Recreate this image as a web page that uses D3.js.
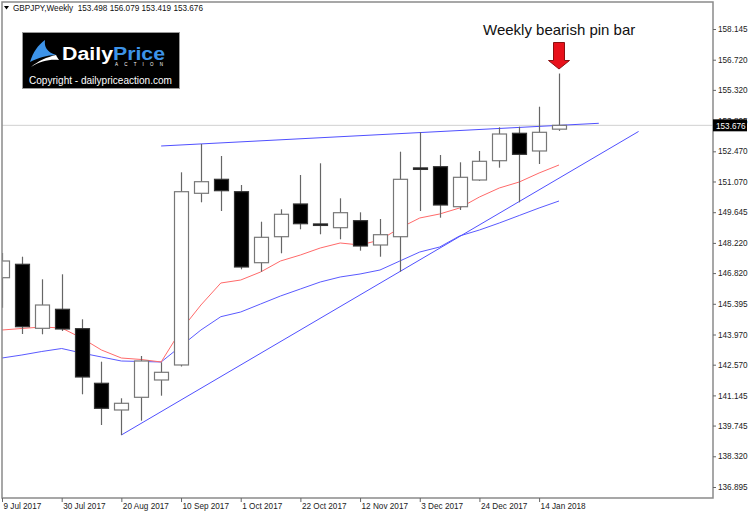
<!DOCTYPE html>
<html>
<head>
<meta charset="utf-8">
<script src="https://cdn.jsdelivr.net/npm/d3@7"></script>
<style>
  html, body { margin: 0; padding: 0; background: #fff; }
  svg text { font-family: "Liberation Sans", Arial, sans-serif; }
</style>
</head>
<body>
<svg id="chart" width="750" height="514"></svg>
<script>
// gbpjpy-weekly.js

const WEEKS = [
    "9 Jul 2017", "16 Jul 2017", "23 Jul 2017", "30 Jul 2017", "6 Aug 2017", "13 Aug 2017",
    "20 Aug 2017", "27 Aug 2017", "3 Sep 2017", "10 Sep 2017", "17 Sep 2017", "24 Sep 2017",
    "1 Oct 2017", "8 Oct 2017", "15 Oct 2017", "22 Oct 2017", "29 Oct 2017", "5 Nov 2017",
    "12 Nov 2017", "19 Nov 2017", "26 Nov 2017", "3 Dec 2017", "10 Dec 2017", "17 Dec 2017",
    "24 Dec 2017", "31 Dec 2017", "7 Jan 2018", "14 Jan 2018", "21 Jan 2018",
];
const OPEN  = [146.606, 147.228, 144.258, 145.140, 144.240, 141.707, 140.468, 141.057, 141.860, 142.556,
               150.522, 151.171, 150.596, 147.302, 148.508, 150.026, 149.100, 148.926, 149.251, 148.123,
               148.508, 151.700, 151.756, 149.900, 151.139, 152.034, 153.306, 152.485, 153.498];
const HIGH  = [147.752, 147.580, 146.532, 146.764, 144.676, 142.709, 141.011, 142.973, 142.681, 151.496,
               152.809, 152.253, 150.907, 149.204, 149.780, 151.371, 151.914, 150.290, 149.640, 149.330,
               152.452, 153.352, 152.299, 151.960, 152.485, 153.584, 153.612, 154.540, 156.079];
const LOW   = [145.214, 143.994, 143.980, 144.133, 141.196, 139.772, 139.308, 139.971, 141.131, 142.486,
               150.104, 149.701, 146.996, 146.884, 147.738, 148.852, 148.620, 148.388, 147.859, 147.580,
               146.884, 149.701, 149.390, 149.747, 151.100, 151.710, 150.104, 151.881, 153.419];
const CLOSE = [147.381, 144.333, 145.339, 144.226, 141.999, 140.547, 140.779, 142.741, 142.217, 150.596,
               151.060, 150.643, 147.103, 148.480, 149.548, 149.111, 149.080, 149.622, 148.077, 148.601,
               151.171, 151.680, 149.979, 151.264, 152.007, 153.273, 152.331, 153.352, 153.676];

// moving averages
const MA_FAST = [144.179, 144.249, 144.319, 144.272, 143.808, 143.252, 142.880, 142.811, 142.695, 144.179,
                 145.339, 146.360, 146.499, 146.871, 147.381, 147.659, 147.984, 148.216, 148.123, 148.355,
                 148.912, 149.376, 149.562, 149.840, 150.350, 150.768, 151.046, 151.464, 151.835];
const MA_SLOW = [142.880, 143.020, 143.182, 143.321, 143.112, 142.927, 142.741, 142.718, 142.695, 143.437,
                 144.179, 144.797, 145.015, 145.386, 145.757, 146.082, 146.407, 146.639, 146.778, 146.963,
                 147.381, 147.798, 148.030, 148.541, 148.819, 149.144, 149.492, 149.840, 150.165];

// hand-drawn trendlines: [bar index, price]
const TREND_LOW  = [[6, 139.308], [32, 153.390]];
const TREND_HIGH = [[8, 152.717], [30, 153.770]];

const PRICE_TICKS = [158.145, 156.720, 155.320, 153.895, 152.470, 151.070, 149.645, 148.220,
                     146.820, 145.395, 143.970, 142.570, 141.145, 139.745, 138.320, 136.895];
const TIME_TICKS = [0, 3, 6, 9, 12, 15, 18, 21, 24, 27];
const LAST_PRICE = 153.676;
const SYMBOL = "GBPJPY,Weekly";
const NOTE = "Weekly bearish pin bar";

// ── Layout ────────────────────────────────────────────────────────────────
const plot = { left: 2, top: 2, right: 713, bottom: 498 };
const svg = d3.select("#chart");

const x = d3.scaleLinear().domain([0, 28]).range([2, 559]);
const y = d3.scaleLinear().domain([136.895, 158.145]).range([487, 29]);

svg.append("defs").append("clipPath").attr("id", "plot-clip")
    .append("rect")
    .attr("x", plot.left).attr("y", plot.top)
    .attr("width", plot.right - plot.left).attr("height", plot.bottom - plot.top);

const g = svg.append("g").attr("clip-path", "url(#plot-clip)");

// current price line
g.append("line")
    .attr("x1", plot.left).attr("x2", plot.right)
    .attr("y1", y(LAST_PRICE)).attr("y2", y(LAST_PRICE))
    .attr("stroke", "#d0d0d0").attr("stroke-width", 1);

// ── Moving averages + trendlines ───────────────────────────────────────────
const maLine = d3.line().x((d, i) => x(i)).y(d => y(d));
g.append("path").datum(MA_SLOW)
    .attr("d", maLine).attr("fill", "none")
    .attr("stroke", "#5a5aff").attr("stroke-width", 1);
g.append("path").datum(MA_FAST)
    .attr("d", maLine).attr("fill", "none")
    .attr("stroke", "#ff6a6a").attr("stroke-width", 1);

const tLine = d3.line().x(d => x(d[0])).y(d => y(d[1]));
[TREND_LOW, TREND_HIGH].forEach(t => {
    g.append("path").datum(t)
        .attr("d", tLine).attr("fill", "none")
        .attr("stroke", "#5050ff").attr("stroke-width", 1);
});

// ── Candles ────────────────────────────────────────────────────────────────
const bars = d3.range(OPEN.length).map(i => ({
    i, o: OPEN[i], h: HIGH[i], l: LOW[i], c: CLOSE[i],
}));
const bodyW = 14;

const candle = g.selectAll(".candle").data(bars).join("g").attr("class", "candle");

candle.append("line")
    .attr("x1", d => Math.round(x(d.i)) + 0.5).attr("x2", d => Math.round(x(d.i)) + 0.5)
    .attr("y1", d => y(d.h)).attr("y2", d => y(d.l))
    .attr("stroke", "#666").attr("stroke-width", 1.2);

candle.append("rect")
    .attr("x", d => Math.round(x(d.i)) - bodyW / 2 + 0.5)
    .attr("width", bodyW)
    .attr("y", d => y(Math.max(d.o, d.c)))
    .attr("height", d => Math.max(1.5, Math.abs(y(d.o) - y(d.c))))
    .attr("fill", d => d.c > d.o ? "#fff" : "#000")
    .attr("stroke", d => d.c > d.o ? "#777" : "#333")
    .attr("stroke-width", 1.2);

// ── Frame + axes ───────────────────────────────────────────────────────────
svg.append("rect")
    .attr("x", plot.left).attr("y", plot.top)
    .attr("width", plot.right - plot.left).attr("height", plot.bottom - plot.top)
    .attr("fill", "none").attr("stroke", "#8a8a8a").attr("stroke-width", 1.5);

const yAxis = svg.append("g")
    .attr("transform", `translate(${plot.right},0)`)
    .call(d3.axisRight(y).tickValues(PRICE_TICKS).tickFormat(d3.format(".3f")).tickSize(3).tickPadding(2));
yAxis.select(".domain").remove();
yAxis.selectAll(".tick line").attr("stroke", "#666");
yAxis.selectAll(".tick text").attr("font-size", 8.2).attr("fill", "#222")
    .attr("font-family", "Liberation Sans, Arial, sans-serif");

const xAxis = svg.append("g")
    .attr("transform", `translate(0,${plot.bottom})`)
    .call(d3.axisBottom(x).tickValues(TIME_TICKS).tickFormat(i => WEEKS[i]).tickSize(4));
xAxis.select(".domain").remove();
xAxis.selectAll(".tick line").attr("stroke", "#666");
xAxis.selectAll(".tick text")
    .attr("text-anchor", "start").attr("x", 1).attr("y", 5)
    .attr("font-size", 8.2).attr("fill", "#222")
    .attr("font-family", "Liberation Sans, Arial, sans-serif");

// last price tag
const tag = svg.append("g").attr("transform", `translate(${plot.right},${y(LAST_PRICE)})`);
tag.append("rect").attr("x", 0).attr("y", -6).attr("width", 34).attr("height", 12).attr("fill", "#000");
tag.append("text").attr("x", 3).attr("y", 3.5)
    .attr("font-size", 8.2).attr("fill", "#fff").text(d3.format(".3f")(LAST_PRICE));

// ── Header ─────────────────────────────────────────────────────────────────
svg.append("path").attr("d", "M4,6 L9,6 L6.5,9.5 Z").attr("fill", "#000");
svg.append("text").attr("x", 13).attr("y", 10.5)
    .attr("font-size", 8.2).attr("fill", "#111")
    .attr("xml:space", "preserve")
    .text(`${SYMBOL}  ${[OPEN[28], HIGH[28], LOW[28], CLOSE[28]].map(d3.format(".3f")).join(" ")}`);

// ── Logo ───────────────────────────────────────────────────────────────────
const logo = svg.append("g");
logo.append("rect").attr("x", 22.5).attr("y", 32.5).attr("width", 157).attr("height", 56)
    .attr("fill", "#000").attr("stroke", "#9a9a9a").attr("stroke-width", 1);
logo.append("path")
    .attr("d", "M30,62 C33,52 38,45 45,40 C44,47 47,52 56,55 C47,55 38,58 30,62 Z")
    .attr("fill", "#3d93e8");
logo.append("path")
    .attr("d", "M31,67 C40,61 50,59 59,60 C57,57 56,55 56,55 C47,57 38,61 31,67 Z")
    .attr("fill", "#fff");
logo.append("text").attr("x", 62).attr("y", 60)
    .attr("font-family", "Lato, 'DejaVu Sans', sans-serif").attr("font-weight", 900)
    .attr("font-size", 18).attr("fill", "#fff")
    .attr("textLength", 51).attr("lengthAdjust", "spacingAndGlyphs").text("Daily");
logo.append("text").attr("x", 113).attr("y", 60)
    .attr("font-family", "Lato, 'DejaVu Sans', sans-serif").attr("font-weight", 900)
    .attr("font-size", 18).attr("fill", "#3d93e8")
    .attr("textLength", 52).attr("lengthAdjust", "spacingAndGlyphs").text("Price");
logo.append("text").attr("x", 115).attr("y", 66)
    .attr("font-size", 4.5).attr("fill", "#fff")
    .attr("textLength", 48).text("ACTION");
logo.append("text").attr("x", 29).attr("y", 84)
    .attr("font-size", 10.5).attr("fill", "#fff")
    .attr("textLength", 143).attr("lengthAdjust", "spacingAndGlyphs")
    .text("Copyright - dailypriceaction.com");

// ── Annotation ─────────────────────────────────────────────────────────────
svg.append("text").attr("x", 483).attr("y", 35)
    .attr("font-size", 15).attr("fill", "#111").text(NOTE);

const ax = x(28);
svg.append("path")
    .attr("d", `M${ax - 5.5},42.5 L${ax + 5.5},42.5 L${ax + 5.5},60.5 L${ax + 10.5},60.5 L${ax},69 L${ax - 10.5},60.5 L${ax - 5.5},60.5 Z`)
    .attr("fill", "#e8111b").attr("stroke", "#8b1010").attr("stroke-width", 1);
</script>
</body>
</html>
